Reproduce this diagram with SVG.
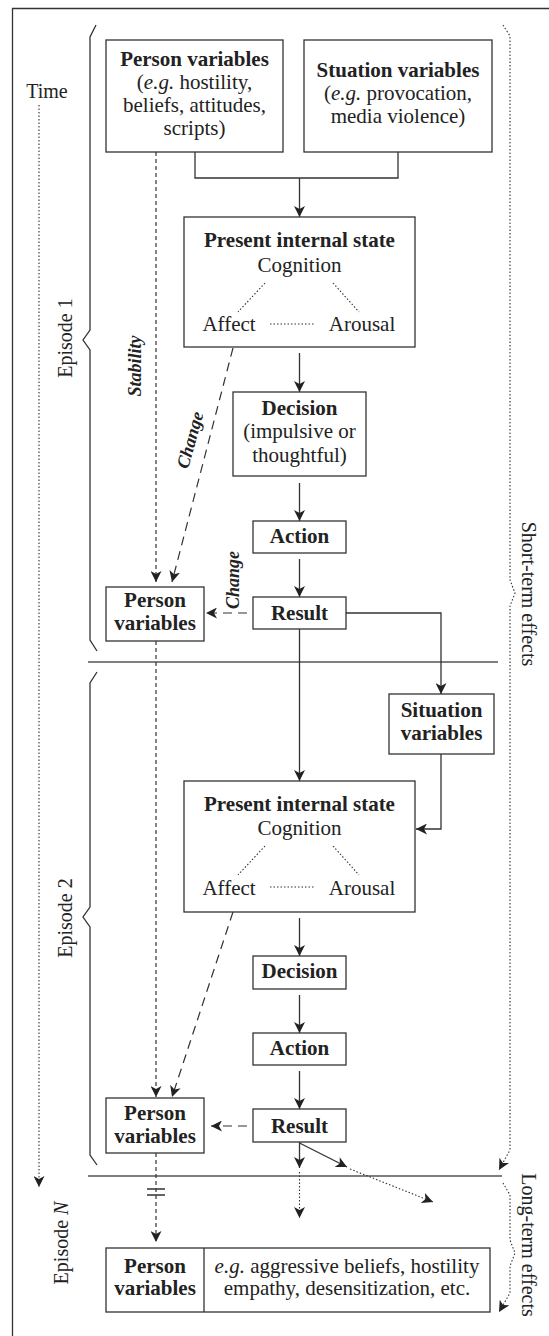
<svg xmlns="http://www.w3.org/2000/svg" width="549" height="1336" viewBox="0 0 549 1336">
<defs>
<style>
.t{font-family:"Liberation Serif","Times New Roman",serif;fill:#222;font-size:21px;text-anchor:middle}
.b{font-weight:bold}
.i{font-style:italic}
.lab{font-size:20px}
.sm{font-size:18px;font-weight:bold;font-style:italic}
.box{fill:#fff;stroke:#333;stroke-width:1.3}
.ln{fill:none;stroke:#333;stroke-width:1.3}
.sep{fill:none;stroke:#555;stroke-width:1.3}
.dot{fill:none;stroke:#333;stroke-width:1.1;stroke-dasharray:1.5 2}
.dsh{fill:none;stroke:#333;stroke-width:1.2;stroke-dasharray:4 3}
.lds{fill:none;stroke:#333;stroke-width:1.2;stroke-dasharray:9 6}
</style>
<marker id="ah" markerUnits="userSpaceOnUse" markerWidth="11" markerHeight="11" viewBox="0 0 11 11" refX="11" refY="5.5" orient="auto">
<path d="M0,0 L11,5.5 L0,11 L3,5.5 Z" fill="#222"/>
</marker>
</defs>
<rect width="549" height="1336" fill="#fff"/>
<path class="ln" d="M12.5,1336 V8.5 H549"/>

<g id="frame-labels">
<text class="t lab" x="47" y="98">Time</text>
<text class="t lab" transform="translate(65,338) rotate(-90)" y="7">Episode 1</text>
<text class="t lab" transform="translate(65,918) rotate(-90)" y="7">Episode 2</text>
<text class="t lab" transform="translate(61,1243) rotate(-90)" y="7">Episode <tspan class="i">N</tspan></text>
<text class="t lab" transform="translate(529,594) rotate(90)" y="7">Short-term effects</text>
<text class="t lab" transform="translate(529,1245) rotate(90)" y="7">Long-term effects</text>
<text class="t sm" transform="translate(135,366) rotate(-90)" y="6">Stability</text>
<text class="t sm" transform="translate(190,440) rotate(-74.5)" y="6">Change</text>
<text class="t sm" transform="translate(233,580) rotate(-90)" y="6">Change</text>
</g>

<g id="braces">
<path class="ln" d="M96,25 L90,37 V330 L83,340 L90,350 V640 L97,651"/>
<path class="ln" d="M97,672 L90,683 V907 L83,917 L90,927 V1155 L97,1165"/>
<path class="sep" d="M88,662 H498"/>
<path class="sep" d="M88,1176 H502"/>
</g>

<g id="connectors">
<path class="dot" d="M39,105 V1187" marker-end="url(#ah)"/>
<path class="dot" d="M503,25 L510,36 V580 L515,593 L510,606 V1150 L499,1170" marker-end="url(#ah)"/>
<path class="dot" d="M503,1183 L510,1195 V1240 L515,1253 L510,1266 V1293 L499,1312" marker-end="url(#ah)"/>
<path class="ln" d="M195,152 V178 H398 V152"/>
<path class="ln" d="M299.5,178 V217" marker-end="url(#ah)"/>
<path class="ln" d="M299.5,353 V392" marker-end="url(#ah)"/>
<path class="ln" d="M299.5,483 V521" marker-end="url(#ah)"/>
<path class="ln" d="M299.5,559 V597" marker-end="url(#ah)"/>
<path class="ln" d="M299.5,629 V781" marker-end="url(#ah)"/>
<path class="ln" d="M346,613 H441 V694" marker-end="url(#ah)"/>
<path class="ln" d="M441,754 V829 H416" marker-end="url(#ah)"/>
<path class="ln" d="M299.5,918 V956" marker-end="url(#ah)"/>
<path class="ln" d="M299.5,995 V1033" marker-end="url(#ah)"/>
<path class="ln" d="M299.5,1071 V1109" marker-end="url(#ah)"/>
<path class="ln" d="M299.5,1142 V1168" marker-end="url(#ah)"/>
<path class="dot" d="M299.5,1172 V1218" marker-end="url(#ah)"/>
<path class="ln" d="M299.5,1143 L347,1167" marker-end="url(#ah)"/>
<path class="dot" d="M350,1169 L433,1202" marker-end="url(#ah)"/>
<path class="dsh" d="M156,152 V582" marker-end="url(#ah)"/>
<path class="dsh" d="M156,641 V1097" marker-end="url(#ah)"/>
<path class="dsh" d="M156,1153 V1242" marker-end="url(#ah)"/>
<path class="ln" d="M147,1189 H165 M147,1195 H165"/>
<path class="lds" d="M233,348 L172,582" marker-end="url(#ah)"/>
<path class="lds" d="M233,912 L172,1097" marker-end="url(#ah)"/>
<path class="lds" d="M247,613 H206" marker-end="url(#ah)"/>
<path class="lds" d="M247,1126 H211" marker-end="url(#ah)"/>
</g>

<g id="person1">
<rect class="box" x="106" y="40" width="177" height="112"/>
<text class="t b" x="194.5" y="66">Person variables</text>
<text class="t" x="194.5" y="89">(<tspan class="i">e.g.</tspan> hostility,</text>
<text class="t" x="194.5" y="112">beliefs, attitudes,</text>
<text class="t" x="194.5" y="135">scripts)</text>
</g>
<g id="situation1">
<rect class="box" x="304" y="40" width="188" height="112"/>
<text class="t b" x="398" y="77">Stuation variables</text>
<text class="t" x="398" y="100">(<tspan class="i">e.g.</tspan> provocation,</text>
<text class="t" x="398" y="123">media violence)</text>
</g>
<g id="state1">
<rect class="box" x="184" y="217" width="231" height="130"/>
<text class="t b" x="299.5" y="247">Present internal state</text>
<text class="t" x="299.5" y="272">Cognition</text>
<text class="t" x="229" y="331">Affect</text>
<text class="t" x="362" y="331">Arousal</text>
<path class="dot" d="M265,283 L238,312 M333,283 L359,312 M270,324 H315"/>
</g>
<g id="decision1">
<rect class="box" x="233" y="392" width="133" height="84"/>
<text class="t b" x="299.5" y="415">Decision</text>
<text class="t" x="299.5" y="438">(impulsive or</text>
<text class="t" x="299.5" y="462">thoughtful)</text>
</g>
<g id="action1">
<rect class="box" x="253" y="521" width="93" height="32"/>
<text class="t b" x="299.5" y="543">Action</text>
</g>
<g id="result1">
<rect class="box" x="253" y="597" width="93" height="32"/>
<text class="t b" x="299.5" y="620">Result</text>
</g>
<g id="personvars1">
<rect class="box" x="106" y="587" width="98" height="54"/>
<text class="t b" x="155" y="607">Person</text>
<text class="t b" x="155" y="630">variables</text>
</g>
<g id="situation2">
<rect class="box" x="389" y="694" width="105" height="60"/>
<text class="t b" x="441.5" y="717">Situation</text>
<text class="t b" x="441.5" y="740">variables</text>
</g>
<g id="state2">
<rect class="box" x="184" y="781" width="231" height="131"/>
<text class="t b" x="299.5" y="811">Present internal state</text>
<text class="t" x="299.5" y="835">Cognition</text>
<text class="t" x="229" y="895">Affect</text>
<text class="t" x="362" y="895">Arousal</text>
<path class="dot" d="M265,846 L238,875 M333,846 L359,875 M270,887 H315"/>
</g>
<g id="decision2">
<rect class="box" x="253" y="956" width="93" height="33"/>
<text class="t b" x="299.5" y="978">Decision</text>
</g>
<g id="action2">
<rect class="box" x="253" y="1033" width="93" height="32"/>
<text class="t b" x="299.5" y="1055">Action</text>
</g>
<g id="result2">
<rect class="box" x="253" y="1109" width="93" height="33"/>
<text class="t b" x="299.5" y="1133">Result</text>
</g>
<g id="personvars2">
<rect class="box" x="106" y="1098" width="98" height="55"/>
<text class="t b" x="155" y="1120">Person</text>
<text class="t b" x="155" y="1143">variables</text>
</g>
<g id="personvarsN">
<rect class="box" x="106" y="1248" width="384" height="64"/>
<path class="ln" d="M204,1248 V1312"/>
<text class="t b" x="155" y="1273">Person</text>
<text class="t b" x="155" y="1295">variables</text>
<text class="t" x="347" y="1273"><tspan class="i">e.g.</tspan> aggressive beliefs, hostility</text>
<text class="t" x="347" y="1295">empathy, desensitization, etc.</text>
</g>
</svg>
